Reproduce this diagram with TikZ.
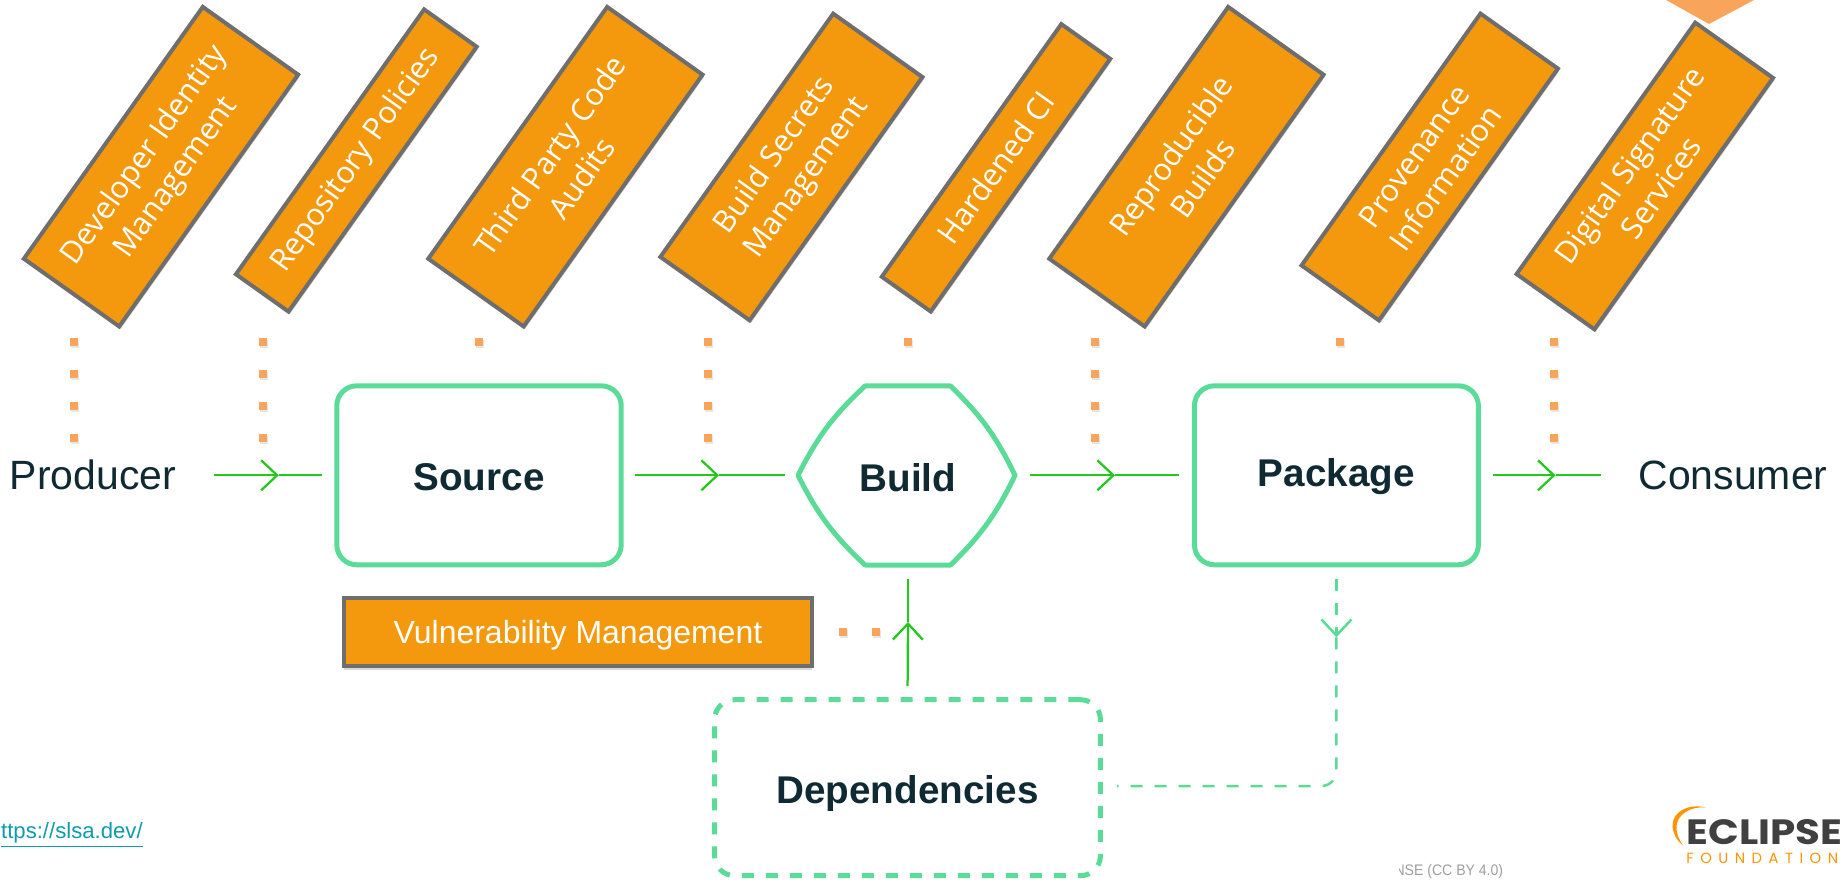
\documentclass[tikz,border=0pt]{standalone}
\usepackage{fontspec}
\setmainfont{Liberation Sans}
\newfontfamily\boxfont{Open Sans}
\newfontfamily\logofont{Poppins}
\usetikzlibrary{arrows.meta,positioning,shadows}
\definecolor{boxorange}{HTML}{F4990D}
\definecolor{boxgray}{HTML}{6E6E6E}
\definecolor{dotorange}{HTML}{F8A45A}
\definecolor{linegreen}{HTML}{5ADB98}
\definecolor{flowgreen}{HTML}{22C81A}
\definecolor{darktext}{HTML}{0F2A33}
\definecolor{linkblue}{HTML}{0E9BAE}

\begin{document}
\begin{tikzpicture}[x=0.02cm, y=-0.02cm, >={Straight Barb[length=0.32cm,width=0.6cm]},
        slantnode/.style={draw=boxgray, fill=boxorange, line width=0.08cm, rotate=54.6, inner sep=0pt,
                text=white, align=center, font=\boxfont\fontsize{17.4}{22}\selectfont,
                drop shadow={shadow xshift=0.03cm, shadow yshift=-0.05cm, opacity=0.3}},
        stepnode/.style={draw=linegreen, line width=0.1cm, rounded corners=0.4cm, inner sep=0pt,
                minimum height=3.58cm, text=darktext, font=\fontsize{22}{26}\selectfont\bfseries},
        actornode/.style={inner sep=0pt, text=darktext, font=\fontsize{23.3}{28}\selectfont},
        dotnode/.style={fill=dotorange, inner sep=0pt, minimum size=0.16cm,
                drop shadow={shadow xshift=0.02cm, shadow yshift=-0.04cm, opacity=0.2}},
        flow/.style={draw=flowgreen, line width=0.045cm},
        flowdash/.style={draw=linegreen, line width=0.05cm, dash pattern=on 0.24cm off 0.24cm}]
        \useasboundingbox (0,0) rectangle (1841,881);
        \fill[dotorange] (1666,0) -- (1709,24) -- (1754,0) -- cycle;

        \node [slantnode, minimum width=6.18cm, minimum height=2.34cm] at (161,166.7) (identity) {Developer Identity\\Management};
        \node [slantnode, minimum width=6.5cm, minimum height=1.29cm] at (356.3,160.5) (policies) {Repository Policies};
        \node [slantnode, minimum width=6.18cm, minimum height=2.34cm] at (565.4,166.7) (audits) {Third Party Code\\Audits};
        \node [slantnode, minimum width=5.97cm, minimum height=2.19cm] at (791.4,167) (secrets) {Build Secrets\\Management};
        \node [slantnode, minimum width=6.2cm, minimum height=1.2cm] at (996,167.8) (hardened) {Hardened CI};
        \node [slantnode, minimum width=6.18cm, minimum height=2.34cm] at (1186.4,166.7) (reproducible) {Reproducible\\Builds};
        \node [slantnode, minimum width=6.18cm, minimum height=1.9cm] at (1429.7,167) (provenance) {Provenance\\Information};
        \node [slantnode, minimum width=6.17cm, minimum height=1.91cm] at (1644.8,176) (signature) {Digital Signature\\Services};

        \foreach \x/\n in {73.5/a,262.5/b,707.8/c,1094.9/d,1554/e}
            \foreach \y/\m in {342.3/1,374.3/2,406/3,438/4}
                \node [dotnode] at (\x,\y) (dot\n\m) {};
        \foreach \x/\n in {478.8/f,908.2/g,1339.8/h}
            \node [dotnode] at (\x,342.3) (dot\n) {};
        \node [dotnode] at (843.3,632) (doti) {};
        \node [dotnode] at (876,632) (dotj) {};

        \node [actornode] at (93,475.3) (producer) {Producer};
        \node [stepnode, minimum width=5.69cm, text height=0.615cm] at (479,475.3) (source) {Source};
        \node [stepnode, draw=none, minimum width=4.28cm, text height=0.657cm] at (908,475.3) (build) {Build};
        \node [stepnode, minimum width=5.68cm, text height=0.615cm] at (1336.4,475.3) (package) {Package};
        \node [actornode] at (1733,475.3) (consumer) {Consumer};
        \node [stepnode, minimum width=7.72cm, minimum height=3.52cm, text height=0.79cm, dash pattern=on 0.24cm off 0.24cm] at (907.5,787.7) (dependencies) {Dependencies};
        \node [draw=boxgray, fill=boxorange, line width=0.08cm, inner sep=0pt, minimum width=9.38cm, minimum height=1.35cm,
                text=white, text height=0.61cm, font=\fontsize{18.2}{22}\selectfont,
                drop shadow={shadow xshift=0cm, shadow yshift=-0.08cm, opacity=0.3}] at (578,632) (vulnerability) {Vulnerability Management};

        \draw[draw=linegreen, line width=0.1cm, line join=round] (865,386) -- (950.5,386) to[bend left=10] (1015,475.3)
            to[bend left=10] (950.5,565) -- (865,565) to[bend left=10] (798,475.3) to[bend left=10] cycle;

        \coordinate (tipa) at (278.8,475.3);
        \coordinate (tipb) at (719,475.3);
        \coordinate (tipc) at (1115,475.3);
        \coordinate (tipd) at (1555.6,475.3);
        \coordinate (tipe) at (908,622);
        \coordinate (tipf) at (1336.4,637.3);
        \draw[flow, ->, shorten <=0.75cm] (producer.east) -- (tipa);
        \draw[flow, shorten >=0.25cm] (tipa) -- (source.west);
        \draw[flow, ->, shorten <=0.22cm] (source.east) -- (tipb);
        \draw[flow, shorten >=0.28cm] (tipb) -- (build.west);
        \draw[flow, ->, shorten <=0.26cm] (build.east) -- (tipc);
        \draw[flow, shorten >=0.26cm] (tipc) -- (package.west);
        \draw[flow, ->, shorten <=0.24cm] (package.east) -- (tipd);
        \draw[flow, shorten >=0.75cm] (tipd) -- (consumer.west);
        \draw[flow, ->, shorten <=0.22cm] (dependencies.north) -- (tipe);
        \draw[flow, shorten >=0.235cm] (tipe) -- (build.south);
        \draw[flowdash, ->, shorten <=0.24cm] (package.south) -- (tipf);
        \draw[flowdash, rounded corners=0.3cm, shorten >=0.28cm] (tipf) |- ([yshift=0.034cm]dependencies.east);

        \node [anchor=east, inner sep=0pt, text=linkblue, font=\fontsize{12.6}{15}\selectfont] at (143,835) (link) {\underline{ttps://slsa.dev/}};
        \begin{scope}
            \clip (1399,855) rectangle (1510,881);
            \node [anchor=east, inner sep=0pt, text=black!38, font=\addfontfeatures{FakeStretch=0.92}\fontsize{8.7}{10}\selectfont] at (1503.5,871.7) (license) {NSE (CC BY 4.0)};
        \end{scope}
        \fill[orange!85!yellow] (1706,807.5) .. controls (1688,803) and (1672,812) .. (1672.5,826)
            .. controls (1673,834) and (1677,841) .. (1683,845.5) .. controls (1678,838) and (1676,832) .. (1676.5,826)
            .. controls (1677,815) and (1690,806) .. (1706,807.5) -- cycle;
        \node [anchor=west, inner sep=0pt, text=black!75, font=\logofont\addfontfeatures{FakeStretch=1.15}\fontsize{20}{24}\selectfont\bfseries] at (1686,832.5) (eclipse) {ECLIPSE};
        \node [anchor=west, inner sep=0pt, text=orange!85!yellow, font=\logofont\fontsize{8.4}{10}\selectfont\addfontfeatures{LetterSpace=44}] at (1686,858) (foundation) {FOUNDATION};
\end{tikzpicture}
\end{document}
